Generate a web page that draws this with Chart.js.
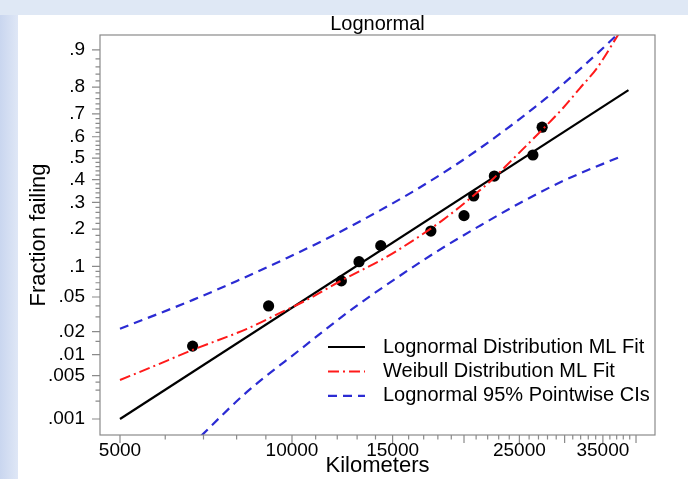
<!DOCTYPE html>
<html lang="en">
<head>
  <meta charset="UTF-8">
  <title>Lognormal probability plot</title>
  <script src="https://cdn.jsdelivr.net/npm/chart.js@4.4.0/dist/chart.umd.min.js"></script>
  <style>
    body { margin: 0; }
    #slide {
      position: relative;
      width: 688px;
      height: 479px;
      overflow: hidden;
      background: #dfe8f5;
    }
    #strip {
      position: absolute;
      left: 0; top: 15px; bottom: 0;
      width: 18px;
      background: linear-gradient(to right, #c9d6ef, #dfe7f6);
    }
    #panel {
      position: absolute;
      left: 18px; top: 15px; right: 0; bottom: 0;
      background: #fff;
    }
    #chart { position: absolute; left: 0; top: 0; }
  </style>
</head>
<body>
  <div id="slide">
    <div id="strip"></div>
    <div id="panel"></div>
    <canvas id="chart" width="688" height="479"></canvas>
  </div>

  <script>
    // Failure data (kilometers, plotting position)
    const failKm   = [6700, 9100, 12200, 13100, 14300, 17500, 20000, 20800, 22600, 26400, 27400];
    const failFrac = [0.013, 0.040, 0.073, 0.110, 0.150, 0.194, 0.248, 0.327, 0.416, 0.515, 0.643];

    // Lognormal ML fit (straight on lognormal paper)
    const lnFitKm   = [5000, 38800];
    const lnFitFrac = [0.001, 0.79];

    // Weibull ML fit
    const wbFitKm   = [5000, 5640, 6710, 8340, 9530, 10620, 12170, 14430, 15450, 18380, 20740, 22570, 23780, 26840, 29810, 31920, 34180, 37200, 40640];
    const wbFitFrac = [0.0043, 0.0065, 0.0116, 0.0216, 0.0334, 0.0466, 0.0730, 0.1163, 0.1413, 0.2324, 0.3272, 0.4073, 0.4678, 0.6081, 0.7238, 0.7969, 0.8571, 0.9277, 0.9695];

    // Lognormal 95% pointwise confidence bounds
    const ciUpKm   = [5000, 6710, 8010, 9800, 11800, 14140, 16280, 19680, 23780, 27950, 31920, 37060, 40640];
    const ciUpFrac = [0.0216, 0.0466, 0.0730, 0.1186, 0.1799, 0.2636, 0.3460, 0.4819, 0.6368, 0.7641, 0.8543, 0.9282, 0.9586];
    const ciLoKm   = [6370, 6985, 8340, 10330, 12790, 15030, 17930, 21330, 25060, 29810, 37800];
    const ciLoFrac = [0.0002, 0.00054, 0.00281, 0.01166, 0.03755, 0.07387, 0.1345, 0.2118, 0.2977, 0.3935, 0.5103];

    // Axes
    const xRange = [4613, 43180];
    const yRange = [0.00052, 0.9277];
    const xMajorTicks = [5000, 10000, 15000, 20000, 25000, 30000, 35000, 40000];
    const xLabelled   = [5000, 10000, 15000, 25000, 35000];
    const xTickValues = [];
    for (let v = 5000; v <= 40000; v += 1000) xTickValues.push(v);
    const yTickValues = [0.001, 0.005, 0.01, 0.02, 0.05, 0.1, 0.2, 0.3, 0.4, 0.5, 0.6, 0.7, 0.8, 0.9];
    const yTickLabels = ['.001', '.005', '.01', '.02', '.05', '.1', '.2', '.3', '.4', '.5', '.6', '.7', '.8', '.9'];
    const yMinorTicks = [0.002, 0.003, 0.004, 0.015, 0.03, 0.04, 0.06, 0.07, 0.08, 0.09,
      0.12, 0.14, 0.16, 0.18, 0.22, 0.24, 0.26, 0.28, 0.32, 0.34, 0.36, 0.38,
      0.42, 0.44, 0.46, 0.48, 0.52, 0.54, 0.56, 0.58, 0.62, 0.64, 0.66, 0.68,
      0.72, 0.74, 0.76, 0.78, 0.82, 0.84, 0.86, 0.88];

    const axisColor = '#8a8a8a';
    const fontFamily = '"Liberation Sans", Arial, Helvetica, sans-serif';

    // inverse standard normal CDF (Acklam)
    function probit(p) {
      const a = [-39.69683028665376, 220.9460984245205, -275.9285104469687, 138.3577518672690, -30.66479806614716, 2.506628277459239];
      const b = [-54.47609879822406, 161.5858368580409, -155.6989798598866, 66.80131188771972, -13.28068155288572];
      const c = [-0.007784894002430293, -0.3223964580411365, -2.400758277161838, -2.549732539343734, 4.374664141464968, 2.938163982698783];
      const d = [0.007784695709041462, 0.3224671290700398, 2.445134137142996, 3.754408661907416];
      const lo = 0.02425;
      let q, r;
      if (p < lo) {
        q = Math.sqrt(-2 * Math.log(p));
        return (((((c[0]*q+c[1])*q+c[2])*q+c[3])*q+c[4])*q+c[5]) / ((((d[0]*q+d[1])*q+d[2])*q+d[3])*q+1);
      }
      if (p > 1 - lo) {
        q = Math.sqrt(-2 * Math.log(1 - p));
        return -(((((c[0]*q+c[1])*q+c[2])*q+c[3])*q+c[4])*q+c[5]) / ((((d[0]*q+d[1])*q+d[2])*q+d[3])*q+1);
      }
      q = p - 0.5; r = q * q;
      return (((((a[0]*r+a[1])*r+a[2])*r+a[3])*r+a[4])*r+a[5])*q / (((((b[0]*r+b[1])*r+b[2])*r+b[3])*r+b[4])*r+1);
    }

    // normal-probability axis: fractions placed by their normal quantile
    class ProbitScale extends Chart.LinearScale {
      buildTicks() {
        return yTickValues.map(v => ({ value: v }));
      }
      configure() {
        super.configure();
        this._zLo = probit(this.min);
        this._zHi = probit(this.max);
      }
      getPixelForValue(v) {
        return this.getPixelForDecimal((probit(v) - this._zLo) / (this._zHi - this._zLo));
      }
      getValueForPixel(px) {
        const t = this.getDecimalForPixel(px);
        const z = this._zLo + t * (this._zHi - this._zLo);
        let lo = 1e-9, hi = 1 - 1e-9;
        for (let i = 0; i < 60; i++) {
          const mid = (lo + hi) / 2;
          if (probit(mid) < z) lo = mid; else hi = mid;
        }
        return (lo + hi) / 2;
      }
    }
    ProbitScale.id = 'probit';
    ProbitScale.defaults = Chart.LinearScale.defaults;
    Chart.register(ProbitScale);

    const pts = (xs, ys) => xs.map((x, i) => ({ x: x, y: ys[i] }));

    // frame, tick marks and the in-plot legend
    const framePlugin = {
      id: 'frame',
      afterDraw(chart) {
        const { ctx, chartArea: a, scales: { x, y } } = chart;
        ctx.save();
        ctx.strokeStyle = axisColor;
        ctx.lineWidth = 1.2;
        ctx.strokeRect(a.left, a.top, a.right - a.left, a.bottom - a.top);
        ctx.beginPath();
        xTickValues.forEach(v => {
          const px = x.getPixelForValue(v);
          const len = xMajorTicks.includes(v) ? 8 : 4.5;
          ctx.moveTo(px, a.bottom);
          ctx.lineTo(px, a.bottom + len);
        });
        yTickValues.forEach(v => {
          const py = y.getPixelForValue(v);
          ctx.moveTo(a.left, py);
          ctx.lineTo(a.left - 8, py);
        });
        yMinorTicks.forEach(v => {
          const py = y.getPixelForValue(v);
          ctx.moveTo(a.left, py);
          ctx.lineTo(a.left - 4.5, py);
        });
        ctx.stroke();

        // legend
        const lx = a.left + 228, ly = a.top + 312, row = 24.4;
        ctx.font = '20px ' + fontFamily;
        ctx.textBaseline = 'middle';
        ctx.fillStyle = '#000';
        chart.data.datasets
          .filter(ds => ds.legendOrder !== undefined)
          .sort((p, q) => p.legendOrder - q.legendOrder)
          .forEach((ds, i) => {
            const yy = ly + i * row;
            ctx.beginPath();
            ctx.strokeStyle = ds.borderColor;
            ctx.lineWidth = ds.borderWidth;
            ctx.setLineDash(ds.borderDash || []);
            ctx.moveTo(lx, yy);
            ctx.lineTo(lx + 37, yy);
            ctx.stroke();
            ctx.setLineDash([]);
            ctx.fillText(ds.label, lx + 55, yy);
          });
        ctx.restore();
      }
    };

    Chart.defaults.font.family = fontFamily;
    Chart.defaults.color = '#000';

    new Chart(document.getElementById('chart'), {
      type: 'line',
      data: {
        datasets: [
          {
            label: 'Lognormal 95% Pointwise CIs',
            data: pts(ciUpKm, ciUpFrac),
            borderColor: '#2b2bd3', borderWidth: 2.2, borderDash: [9, 6],
            pointRadius: 0, cubicInterpolationMode: 'monotone', legendOrder: 2
          },
          {
            label: 'Lognormal 95% Pointwise CIs',
            data: pts(ciLoKm, ciLoFrac),
            borderColor: '#2b2bd3', borderWidth: 2.2, borderDash: [9, 6],
            pointRadius: 0, cubicInterpolationMode: 'monotone'
          },
          {
            label: 'Weibull Distribution ML Fit',
            data: pts(wbFitKm, wbFitFrac),
            borderColor: '#ff1a1a', borderWidth: 2, borderDash: [11, 4, 2, 4],
            pointRadius: 0, cubicInterpolationMode: 'monotone', legendOrder: 1
          },
          {
            label: 'Lognormal Distribution ML Fit',
            data: pts(lnFitKm, lnFitFrac),
            borderColor: '#000', borderWidth: 2.2,
            pointRadius: 0, legendOrder: 0
          },
          {
            label: 'Failures',
            data: pts(failKm, failFrac),
            showLine: false,
            pointRadius: 5.6, pointBackgroundColor: '#000', pointBorderColor: '#000', pointBorderWidth: 0
          }
        ]
      },
      options: {
        responsive: false,
        animation: false,
        devicePixelRatio: 1,
        layout: { padding: { left: 0, right: 33, top: 0, bottom: 0 } },
        plugins: {
          legend: { display: false },
          tooltip: { enabled: false },
          title: {
            display: true,
            text: 'Lognormal',
            fullSize: false,
            color: '#000',
            font: { size: 20, weight: 'normal', lineHeight: 1 },
            padding: { top: 14.5, bottom: 0.5 }
          }
        },
        scales: {
          x: {
            type: 'logarithmic',
            min: xRange[0],
            max: xRange[1],
            afterBuildTicks: s => { s.ticks = xTickValues.map(v => ({ value: v })); },
            afterFit: s => { s.height = 44; },
            grid: { display: false, drawTicks: false },
            border: { display: false },
            ticks: {
              autoSkip: false, maxRotation: 0, padding: 4,
              font: { size: 19, lineHeight: 1.2 },
              callback: v => xLabelled.includes(v) ? String(v) : ''
            },
            title: {
              display: true, text: 'Kilometers',
              font: { size: 22, lineHeight: 1 },
              padding: { top: 0, bottom: 1.6 }
            }
          },
          y: {
            type: 'probit',
            min: yRange[0],
            max: yRange[1],
            afterFit: s => { s.width = 100; },
            grid: { display: false, drawTicks: false },
            border: { display: false },
            ticks: {
              autoSkip: false, padding: 15,
              font: { size: 19, lineHeight: 1.2 },
              callback: (v, i) => yTickLabels[i]
            },
            title: {
              display: true, text: 'Fraction failing',
              font: { size: 22, lineHeight: 1 },
              padding: { top: 28.4, bottom: 0 }
            }
          }
        }
      },
      plugins: [framePlugin]
    });
  </script>
</body>
</html>
